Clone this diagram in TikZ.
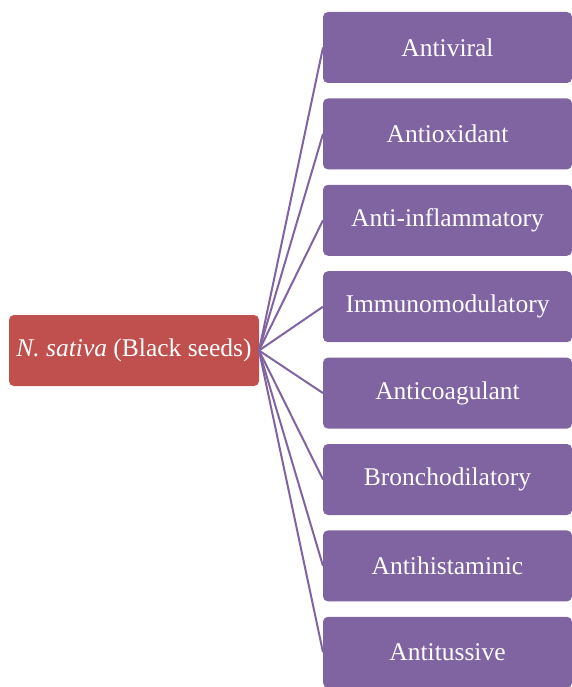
\documentclass[tikz,border=0pt]{standalone}
\usepackage{fontspec}
\setmainfont{Liberation Serif}
\usepackage{tikz}
\usetikzlibrary{positioning}

\definecolor{seedred}{HTML}{C0504D}
\definecolor{effpurple}{HTML}{8064A2}

\begin{document}
\begin{tikzpicture}[x=1pt,y=-1pt,node distance=15.4pt,
                    every edge/.style={draw=effpurple,line width=2pt}]

  \tikzstyle{effect} = [fill=effpurple, text=white, rounded corners=5pt,
                        minimum width=249pt, minimum height=71pt,
                        inner sep=0pt, outer sep=0pt,
                        font=\fontsize{25.5}{30}\selectfont]
  \tikzstyle{plant}  = [effect, fill=seedred, minimum width=250pt]

  \useasboundingbox (0,0) rectangle (572,687);

  \node[plant]  (NS) at (134,350.5)     {\textit{N. sativa} (Black seeds)};
  \node[effect] (AV) at (447.5,47.5)    {Antiviral};
  \node[effect] (AO) [below=of AV]      {Antioxidant};
  \node[effect] (AI) [below=of AO]      {Anti-inflammatory};
  \node[effect] (IM) [below=of AI]      {Immunomodulatory};
  \node[effect] (AC) [below=of IM]      {Anticoagulant};
  \node[effect] (BD) [below=of AC]      {Bronchodilatory};
  \node[effect] (AH) [below=of BD]      {Antihistaminic};
  \node[effect] (AT) [below=of AH]      {Antitussive};

  \path (NS.east) edge (AV.west)
        (NS.east) edge (AO.west)
        (NS.east) edge (AI.west)
        (NS.east) edge (IM.west)
        (NS.east) edge (AC.west)
        (NS.east) edge (BD.west)
        (NS.east) edge (AH.west)
        (NS.east) edge (AT.west);
\end{tikzpicture}
\end{document}
